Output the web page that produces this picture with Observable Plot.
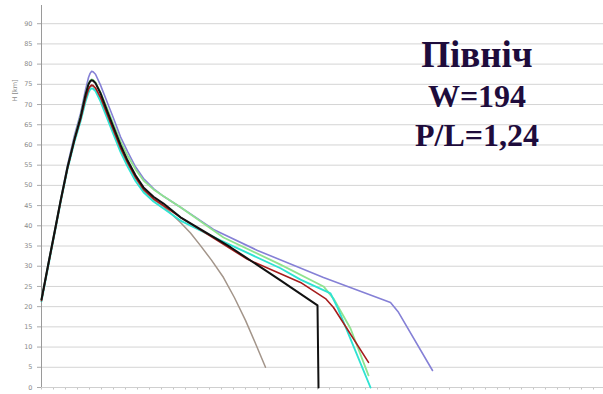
<!DOCTYPE html>
<html>
<head>
<meta charset="utf-8">
<script src="https://cdn.jsdelivr.net/npm/d3@7"></script>
<script src="https://cdn.jsdelivr.net/npm/@observablehq/plot@0.6"></script>
<style>
  html, body { margin: 0; padding: 0; background: #fff; }
  #wrap { position: relative; width: 603px; height: 394px; }
  #note {
    position: absolute; left: 377px; top: 36px; width: 200px;
    text-align: center; font-family: "Liberation Serif", "DejaVu Serif", serif;
    font-weight: bold; color: #1e0c3c; line-height: 1;
  }
  #note .t1 { font-size: 37px; }
  #note .t2 { font-size: 32px; margin-top: 7px; }
  #note .t3 { font-size: 32px; margin-top: 7px; }
</style>
</head>
<body>
<div id="wrap">
  <div id="chart"></div>
  <div id="note">
    <div class="t1">Північ</div>
    <div class="t2">W=194</div>
    <div class="t3">P/L=1,24</div>
  </div>
</div>
<script>
// Height profiles H [km] against time step t for the six runs
const yTicks = d3.range(0, 91, 5);
const xTicks = d3.range(0, 281, 6);

const purpleT = [0, 3.5, 6.5, 9.5, 13, 16.5, 19.5, 22, 23.5, 24.3, 25, 25.8, 27, 29.5, 33, 36, 39.5, 43, 47, 51, 56, 61, 69.5, 86, 108, 141, 174.5, 178.5, 195.5];
const purpleH = [21.8, 31.0, 38.6, 46.3, 55.0, 62.4, 67.8, 73.6, 76.7, 77.7, 78.2, 78.1, 77.5, 74.8, 70.4, 66.6, 62.0, 58.4, 54.6, 51.7, 49.2, 47.3, 44.6, 39.1, 33.9, 27.2, 21.0, 18.6, 4.2];

const greenT = [0, 3.5, 6.5, 9.5, 13, 16.5, 19.5, 22, 23.5, 24.3, 25, 25.8, 27, 29.5, 33, 36, 39.5, 43, 47, 51, 56, 61, 69.5, 91, 119.5, 141, 146, 154.5, 163.5];
const greenH = [21.8, 30.8, 38.4, 46.1, 54.5, 61.7, 67.1, 72.6, 75.2, 75.9, 76.2, 76.1, 75.5, 73.0, 68.9, 65.1, 60.9, 57.4, 54.0, 51.2, 49.0, 47.3, 44.6, 37.1, 30.4, 25.0, 22.0, 14.6, 3.0];

const redT = [0, 3.5, 6.5, 9.5, 13, 16.5, 19.5, 22, 23.5, 24.3, 25, 25.8, 27, 29.5, 33, 36, 39.5, 43, 47, 51, 56, 61, 69.5, 103, 129.5, 142, 146, 163.5];
const redH = [21.5, 30.5, 38.1, 45.8, 54.2, 61.2, 66.3, 71.4, 73.8, 74.5, 74.8, 74.7, 74.1, 71.8, 67.4, 63.6, 59.3, 55.7, 52.0, 49.0, 46.7, 45.0, 42.1, 31.7, 26.0, 22.0, 19.8, 6.2];

const cyanT = [0, 3.5, 6.5, 9.5, 13, 16.5, 19.5, 22, 23.5, 24.3, 25, 25.8, 27, 29.5, 33, 36, 39.5, 43, 47, 51, 56, 61, 69.5, 89.5, 119.5, 129.5, 144.5, 148, 164.5];
const cyanH = [21.3, 30.3, 37.9, 45.6, 54.0, 60.8, 65.8, 70.7, 73.0, 73.7, 74.0, 73.9, 73.3, 70.8, 66.4, 62.6, 58.3, 54.7, 51.1, 48.3, 46.0, 44.3, 41.3, 36.4, 29.5, 26.7, 23.3, 19.8, 0];

const blackT = [0, 3.5, 6.5, 9.5, 13, 16.5, 19.5, 22, 23.5, 24.3, 25, 25.8, 27, 29.5, 33, 36, 39.5, 43, 47, 51, 56, 61, 69.5, 94.5, 119.5, 138, 138.5];
const blackH = [21.8, 30.8, 38.4, 46.1, 54.5, 61.5, 66.8, 72.4, 75.0, 75.7, 76.0, 75.9, 75.3, 72.8, 68.2, 64.4, 60.0, 56.2, 52.5, 49.5, 47.2, 45.5, 42.1, 34.7, 26.5, 20.3, 0];

const grayT = [0, 3.5, 6.5, 9.5, 13, 16.5, 19.5, 22, 23.5, 24.3, 25, 25.8, 27, 29.5, 33, 36, 39.5, 43, 47, 51, 56, 61, 69.5, 74.5, 79.5, 85, 91, 96.5, 102, 107, 112];
const grayH = [21.5, 30.5, 38.1, 45.8, 54.2, 61.2, 66.3, 71.4, 73.8, 74.4, 74.6, 74.5, 73.9, 71.5, 67.1, 63.3, 59.0, 55.4, 51.8, 48.8, 46.5, 44.8, 40.8, 38.2, 35.1, 31.5, 27.2, 22.2, 16.6, 10.9, 5.0];

const runs = [
  {name: "gray",   t: grayT,   h: grayH,   color: "#a3958a", width: 1.5},
  {name: "purple", t: purpleT, h: purpleH, color: "#8580d6", width: 1.6},
  {name: "green",  t: greenT,  h: greenH,  color: "#8fe38f", width: 1.8},
  {name: "cyan",   t: cyanT,   h: cyanH,   color: "#2fe3d2", width: 1.9},
  {name: "red",    t: redT,    h: redH,    color: "#a51c1c", width: 1.6},
  {name: "black",  t: blackT,  h: blackH,  color: "#111111", width: 2}
];

const rows = r => r.t.map((t, i) => ({t, h: r.h[i]}));

const chart = Plot.plot({
  width: 603,
  height: 394,
  marginLeft: 41,
  marginRight: 0,
  marginTop: 5,
  marginBottom: 7,
  style: {background: "#fff", fontFamily: "DejaVu Sans, sans-serif"},
  x: {domain: [0, 281]},
  y: {domain: [0, 94.5]},
  marks: [
    Plot.gridY(yTicks, {stroke: "#d4d4d4", strokeOpacity: 1, strokeWidth: 1}),
    Plot.axisY({ticks: yTicks, tickSize: 4, tickPadding: 5, fontSize: 6.5, color: "#8a8a8a", label: null, stroke: "#aaa"}),
    Plot.axisX({ticks: xTicks, tickSize: 2.5, tickFormat: () => "", label: null, stroke: "#c4c4c4"}),
    Plot.ruleY([0], {stroke: "#cfcfcf"}),
    Plot.ruleX([0], {y1: 0, y2: 94.5, stroke: "#9a9a9a"}),
    Plot.text(["H [km]"], {frameAnchor: "top-left", dx: -29, dy: 96, rotate: -90, fontSize: 6.5, fill: "#8a8a8a"}),
    ...runs.map(r => Plot.line(rows(r), {
      x: "t", y: "h", stroke: r.color, strokeWidth: r.width,
      curve: "linear", strokeLinejoin: "round", strokeLinecap: "round"
    }))
  ]
});
document.getElementById("chart").append(chart);
</script>
</body>
</html>
